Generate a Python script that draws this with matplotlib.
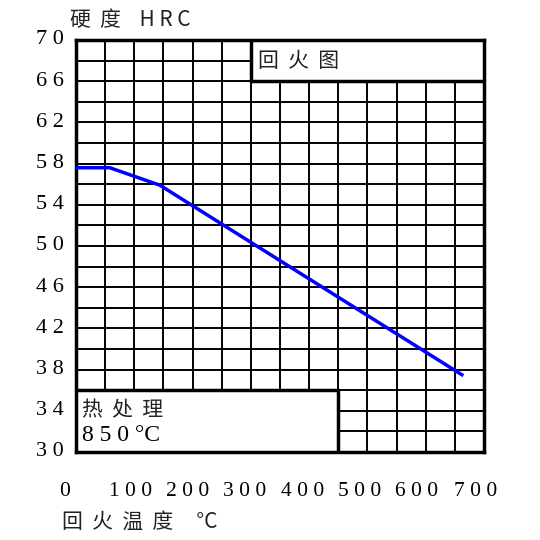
import matplotlib.pyplot as plt
from matplotlib.patches import Rectangle

# tempering curve (temperature C, hardness HRC)
temp = [0, 58, 144, 662]
hrc = [57.6, 57.6, 55.9, 37.5]

y_ticks = [70, 66, 62, 58, 54, 50, 46, 42, 38, 34, 30]
x_labels = ['0', '100', '200', '300', '400', '500', '600', '700']
x_label_pos = [-19, 93, 192, 290, 388, 487, 585, 685]

cjk = ['Noto Sans CJK SC', 'DejaVu Sans']
serif = 'Liberation Serif'

fig = plt.figure(figsize=(5.4, 5.4), dpi=100)
ax = fig.add_axes([76/540, 88/540, 408/540, 412/540])
ax.set_xlim(0, 700)
ax.set_ylim(30, 70)

for x in range(0, 701, 50):
    ax.axvline(x, color='black', lw=1.4, zorder=1)
for y in range(30, 71, 2):
    ax.axhline(y, color='black', lw=1.4, zorder=1)

ax.plot(temp, hrc, color='#0000ff', lw=2.5, zorder=3)

# label boxes
ax.add_patch(Rectangle((300, 66), 400, 4, facecolor='white', edgecolor='black', lw=2.5, zorder=4))
ax.text(312, 68, '回  火  图', family=cjk, fontsize=15, va='center', zorder=5, color='#222222',
        fontweight='light')
ax.add_patch(Rectangle((0, 30), 450, 6, facecolor='white', edgecolor='black', lw=2.5, zorder=4))
ax.text(10, 34, '热  处  理', family=cjk, fontsize=15, va='center', zorder=5, color='#222222',
        fontweight='light')
ax.text(10, 31.6, '8 5 0 °C', family=serif, fontsize=17, va='center', zorder=5)

for s in ax.spines.values():
    s.set_linewidth(2.5)
ax.set_xticks([])
ax.set_yticks([])

for v in y_ticks:
    ax.text(-45, v, ' '.join(str(v)), family=serif, fontsize=16, ha='center', va='center')
for lab, p in zip(x_labels, x_label_pos):
    ax.text(p, 26.2, ' '.join(lab), family=serif, fontsize=15.5, ha='center', va='center')

fig.text(70/540, 1 - 20/540, '硬  度    H R C', family=cjk + [serif], fontsize=15, va='center',
         color='#222222', fontweight='light')
fig.text(62/540, 1 - 522/540, '回  火  温  度     °C', family=cjk, fontsize=15, va='center',
         color='#222222', fontweight='light')

fig.savefig('out.png', dpi=100, facecolor='white')
